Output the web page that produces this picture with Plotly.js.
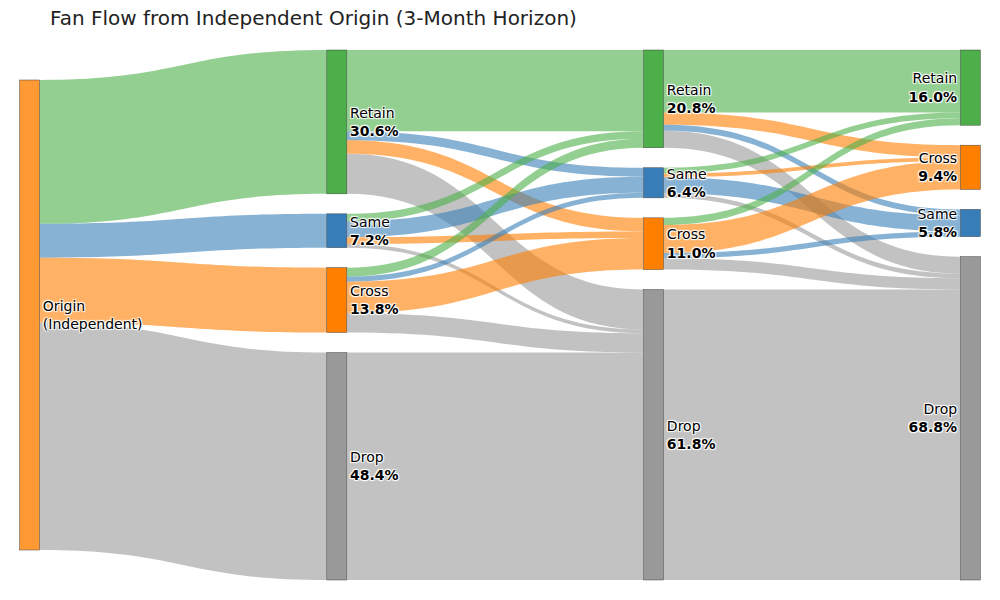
<!DOCTYPE html>
<html>
<head>
<meta charset="utf-8">
<script src="https://cdn.plot.ly/plotly-3.0.1.min.js"></script>
<style>html,body{margin:0;padding:0;background:#fff;}#chart{width:1000px;height:600px;}</style>
</head>
<body>
<div id="chart"></div>
<script>
// ---- Data ----
const stages = ["Origin", "Month 1", "Month 2", "Month 3"];
const originLabel = "Origin<br>(Independent)";
const month1Names = ["Retain", "Same", "Cross", "Drop"];
const month1Shares = [30.6, 7.2, 13.8, 48.4];
const month2Names = ["Retain", "Same", "Cross", "Drop"];
const month2Shares = [20.8, 6.4, 11.0, 61.8];
const month3Names = ["Retain", "Cross", "Same", "Drop"];
const month3Shares = [16.0, 9.4, 5.8, 68.8];

// links: Origin -> Month 1
const originToM1 = [30.6, 7.2, 13.8, 48.4];
// Month 1 -> Month 2 flows [from][to] (order Retain, Same, Cross, Drop)
const m1ToM2 = [
  [17.3, 1.9, 2.9, 8.5],   // from Retain
  [1.6, 3.4, 1.4, 0.8],    // from Same
  [1.9, 1.1, 6.7, 4.1],    // from Cross
  [0, 0, 0, 48.4]          // from Drop
];
// Month 2 -> Month 3 flows [from M2 (Retain,Same,Cross,Drop)][to M3 (Retain,Cross,Same,Drop)]
const m2ToM3 = [
  [13.3, 2.6, 1.3, 3.6],   // from Retain
  [1.2, 0.8, 3.4, 1.0],    // from Same
  [1.5, 6.0, 1.1, 2.4],    // from Cross
  [0, 0, 0, 61.8]          // from Drop
];

// ---- Styles ----
const nodeColors = {Retain: "#4daf4a", Same: "#377eb8", Cross: "#ff7f00", Drop: "#999999", Origin: "rgba(255,127,0,0.8)"};
const linkColors = {Retain: "rgba(77,175,74,0.6)", Same: "rgba(55,126,184,0.6)", Cross: "rgba(255,127,0,0.6)", Drop: "rgba(153,153,153,0.6)"};
const stageX = [0.01, 0.33, 0.66, 0.99];
const PAD = 20, H = 530;

// ---- Build nodes ----
const labels = [], colors = [], xs = [], ys = [], cats = [];
labels.push(originLabel); colors.push(nodeColors.Origin); xs.push(stageX[0]); ys.push(0.5); cats.push("Origin");
const ky = (H - 3 * PAD) / 100;
function addColumn(names, shares, stageIdx) {
  let top = 0;
  const start = labels.length;
  names.forEach((n, i) => {
    const h = shares[i] * ky;
    labels.push(n + "<br><b>" + shares[i].toFixed(1) + "%</b>");
    colors.push(nodeColors[n]);
    xs.push(stageX[stageIdx]);
    ys.push((top + h / 2) / H);
    cats.push(n);
    top += h + PAD;
  });
  return start;
}
const s1 = addColumn(month1Names, month1Shares, 1);
const s2 = addColumn(month2Names, month2Shares, 2);
const s3 = addColumn(month3Names, month3Shares, 3);

const src = [], tgt = [], val = [], lcol = [];
originToM1.forEach((v, j) => { src.push(0); tgt.push(s1 + j); val.push(v); lcol.push(linkColors[month1Names[j]]); });
m1ToM2.forEach((row, i) => row.forEach((v, j) => { if (v > 0) { src.push(s1 + i); tgt.push(s2 + j); val.push(v); lcol.push(linkColors[month2Names[j]]); } }));
m2ToM3.forEach((row, i) => row.forEach((v, j) => { if (v > 0) { src.push(s2 + i); tgt.push(s3 + j); val.push(v); lcol.push(linkColors[month3Names[j]]); } }));

const trace = {
  type: "sankey",
  arrangement: "snap",
  node: {
    label: labels, color: colors, x: xs, y: ys,
    pad: PAD, thickness: 20,
    line: {color: "#444", width: 0.5}
  },
  link: {source: src, target: tgt, value: val, color: lcol},
  textfont: {family: "DejaVu Sans", size: 14, color: "#000"}
};

const layout = {
  width: 1000, height: 600,
  margin: {l: 20, r: 20, t: 50, b: 20},
  font: {family: "DejaVu Sans", size: 12},
  title: {text: "Fan Flow from Independent Origin (3-Month Horizon)", x: 0.05, xanchor: "left", y: 0.97, yanchor: "middle", font: {family: "DejaVu Sans", size: 20, color: "#222"}},
  paper_bgcolor: "#fff"
};
Plotly.newPlot("chart", [trace], layout, {displayModeBar: false});
</script>
</body>
</html>
